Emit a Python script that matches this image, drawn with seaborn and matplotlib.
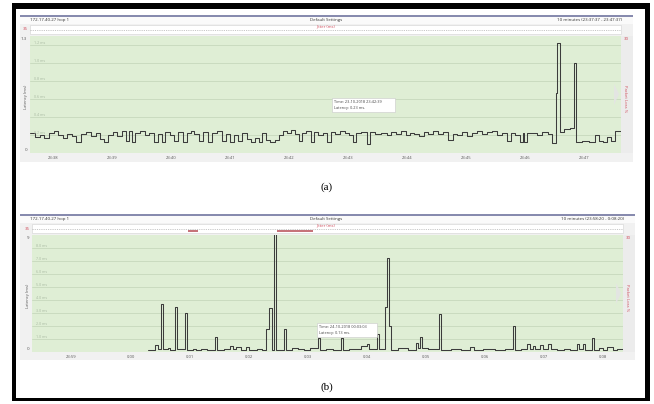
import matplotlib
matplotlib.use("Agg")
import matplotlib.pyplot as plt
import seaborn as sns
from matplotlib.patches import Rectangle, Polygon

sns.set_theme(style="white")
plt.rcParams['font.family'] = ['Open Sans', 'DejaVu Sans']

# ---------------- data ----------------
# Panel (a): seconds after 23:37:37, latency in ms (step changes)
a_times = [0, 5, 10, 14, 19, 24, 28, 33, 38, 43, 47, 52, 57, 62, 67, 71, 75, 79, 84, 88,
           93, 97, 100, 104, 107, 112, 117, 121, 126, 130, 134, 137, 142, 146, 150, 155,
           159, 163, 167, 172, 176, 181, 185, 190, 195, 199, 203, 207, 211, 215, 220, 224,
           228, 232, 236, 240, 244, 249, 253, 257, 261, 265, 269, 273, 276, 280, 285, 288,
           292, 297, 302, 306, 310, 315, 320, 324, 328, 331, 336, 342, 345, 350, 356, 362,
           367, 372, 377, 382, 386, 390, 395, 400, 404, 409, 414, 419, 424, 429, 434, 439,
           444, 449, 454, 459, 464, 469, 474, 479, 484, 488, 492, 497, 500, 502, 505, 510,
           515, 520, 526, 530, 534, 535.5, 538, 542, 548, 552, 554, 560, 568, 574, 578, 582,
           586, 590, 594, 600]
a_lat = [0.22, 0.18, 0.20, 0.17, 0.22, 0.25, 0.20, 0.17, 0.21, 0.19, 0.12, 0.21, 0.23, 0.19,
         0.22, 0.16, 0.12, 0.20, 0.23, 0.19, 0.25, 0.13, 0.25, 0.12, 0.22, 0.24, 0.20, 0.22,
         0.12, 0.21, 0.12, 0.23, 0.20, 0.13, 0.23, 0.12, 0.22, 0.25, 0.21, 0.13, 0.23, 0.12,
         0.22, 0.24, 0.13, 0.21, 0.12, 0.20, 0.13, 0.22, 0.16, 0.12, 0.17, 0.12, 0.22, 0.14,
         0.12, 0.14, 0.20, 0.25, 0.22, 0.26, 0.21, 0.13, 0.22, 0.24, 0.12, 0.23, 0.20, 0.22,
         0.12, 0.23, 0.21, 0.24, 0.22, 0.20, 0.12, 0.22, 0.23, 0.10, 0.23, 0.21, 0.22, 0.20,
         0.23, 0.21, 0.24, 0.20, 0.22, 0.21, 0.19, 0.23, 0.21, 0.25, 0.21, 0.23, 0.14, 0.21,
         0.20, 0.23, 0.19, 0.22, 0.25, 0.21, 0.23, 0.24, 0.20, 0.22, 0.13, 0.22, 0.20, 0.12,
         0.22, 0.12, 0.22, 0.22, 0.20, 0.23, 0.21, 0.11, 0.67, 1.22, 0.23, 0.27, 0.28, 1.00,
         0.12, 0.13, 0.12, 0.20, 0.13, 0.12, 0.18, 0.13, 0.24, 0.24]

# Panel (b): seconds after 23:58:20, latency in ms (step changes)
b_times = [118, 125, 128, 131, 133, 138, 140, 145, 147, 155, 157, 163, 167, 172, 178, 186,
           188, 195, 201, 204, 207, 212, 217, 220, 228, 233, 237.5, 240.5, 243.7, 245.7,
           247.7, 256, 258, 264, 270, 276, 282, 290, 292, 298, 306, 314, 316, 322, 330, 334,
           340, 342, 350, 352, 358, 360, 362, 364, 372, 382, 390, 392, 394, 396, 402, 413,
           415, 425, 436, 445, 449, 458, 470, 480, 488, 490, 496, 503, 506, 509, 511, 516,
           519, 524, 527, 533, 540, 546, 553, 555, 559, 561, 569, 571, 576, 580, 584, 590,
           594, 600]
b_lat = [0.15, 0.55, 0.20, 3.70, 0.20, 0.30, 0.15, 3.45, 0.20, 3.00, 0.15, 0.20, 0.12, 0.25,
         0.15, 1.15, 0.15, 0.20, 0.50, 0.25, 0.40, 0.15, 0.40, 0.15, 0.25, 0.15, 1.75, 3.40,
         0.15, 9.50, 0.15, 1.75, 0.15, 0.30, 0.20, 0.15, 0.30, 1.05, 0.15, 0.20, 0.15, 1.10,
         0.15, 0.25, 0.20, 0.50, 0.65, 0.20, 1.40, 0.20, 3.50, 7.20, 2.00, 0.15, 0.30, 0.15,
         0.70, 0.30, 1.15, 0.30, 0.20, 2.90, 0.15, 0.20, 0.15, 0.40, 0.15, 0.20, 0.15, 0.20,
         2.00, 0.15, 0.20, 0.60, 0.20, 0.50, 0.20, 0.55, 0.25, 0.65, 0.20, 0.15, 0.20, 0.15,
         0.60, 0.20, 0.65, 0.15, 1.05, 0.15, 0.30, 0.15, 0.35, 0.15, 0.20, 0.20]

a_tick_pos = [23, 83, 143, 203, 263, 323, 383, 443, 503, 563]
a_tick_lab = ["23:38", "23:39", "23:40", "23:41", "23:42", "23:43", "23:44", "23:45", "23:46", "23:47"]
b_tick_pos = [40, 100, 160, 220, 280, 340, 400, 460, 520, 580]
b_tick_lab = ["23:59", "0:00", "0:01", "0:02", "0:03", "0:04", "0:05", "0:06", "0:07", "0:08"]

a_grid = [0.2, 0.4, 0.6, 0.8, 1.0, 1.2]
a_grid_lab = ["0.2 ms", "0.4 ms", "0.6 ms", "0.8 ms", "1.0 ms", "1.2 ms"]
b_grid = [1, 2, 3, 4, 5, 6, 7, 8]
b_grid_lab = ["1.0 ms", "2.0 ms", "3.0 ms", "4.0 ms", "5.0 ms", "6.0 ms", "7.0 ms", "8.0 ms"]

# ---------------- layout ----------------
W, H = 654, 404
fig = plt.figure(figsize=(W / 100, H / 100), dpi=100)
fig.patch.set_facecolor("white")

bg = fig.add_axes([0, 0, 1, 1], zorder=0)
bg.set_xlim(0, W)
bg.set_ylim(H, 0)
bg.axis("off")
ov = fig.add_axes([0, 0, 1, 1], zorder=5)
ov.set_xlim(0, W)
ov.set_ylim(H, 0)
ov.axis("off")
ov.patch.set_alpha(0)

GREEN = "#dfeed5"
GRID = "#c6d8bc"
GRAYPANEL = "#f1f1f1"
HEAD = "#7b7fa6"
RED = "#d04a5a"
TXT = "#555555"
LINE = "#3c3c3c"


def rect(ax, x0, y0, x1, y1, **kw):
    ax.add_patch(Rectangle((x0, y0), x1 - x0, y1 - y0, **kw))


def panel(y_off, x_ax0, x_ax1, times, lat, ymax, ytop_lab, grid, grid_lab,
          tick_pos, tick_lab, right_end, bottom_bg, head_right, red_bars, tip_box, tip_lines):
    top = 16 + y_off
    ax_top = 36 + y_off
    ax_bot = 153 + y_off
    # outer gray panel
    rect(bg, 20, top, right_end, bottom_bg + y_off, facecolor=GRAYPANEL, edgecolor="none")
    # header row
    rect(bg, 20, top, right_end, top + 7.5, facecolor="#fafafa", edgecolor="none")
    bg.plot([20, right_end], [top, top], color=HEAD, lw=1.3, solid_capstyle="butt")
    bg.text(30, top + 4, "172.17.40.27 hop 1", fontsize=3.2, color="#333333", va="center")
    bg.text(326, top + 4, "Default Settings", fontsize=3.2, color="#333333", va="center", ha="center")
    bg.text(right_end - 11, top + 4, head_right, fontsize=3.2, color="#333333", va="center", ha="right")
    # jitter strip
    rect(bg, x_ax0, top + 8.5, x_ax1, top + 17.5, facecolor="white", edgecolor="#d2d2d2", lw=0.4)
    bg.plot([x_ax0, x_ax1], [top + 13.5, top + 13.5], color="#9a9a9a", lw=0.4, ls=(0, (2, 2)))
    bg.text(x_ax0 - 2, top + 13.5, "35", fontsize=3.2, color=RED, va="center", ha="right")
    bg.text(326, top + 10.5, "Jitter (ms)", fontsize=3.0, color=RED, va="center", ha="center")
    for (bx0, bx1) in red_bars:
        bg.plot([bx0, bx1], [top + 16, top + 16], color="#c0646c", lw=1.3, solid_capstyle="butt")
    # right side
    rect(bg, x_ax1, ax_top, right_end, ax_bot, facecolor="#ececec", edgecolor="none")
    bg.text(x_ax1 + 3, ax_top + 3, "30", fontsize=3.2, color=RED, va="center", ha="left")
    bg.text(x_ax1 + 4.5, (ax_top + ax_bot) / 2 + 4, "Packet Loss %", fontsize=3.0, color=RED,
            va="center", ha="center", rotation=-90)
    # left axis labels
    bg.text(x_ax0 - 3, ax_top + 3, ytop_lab, fontsize=3.2, color=TXT, va="center", ha="right")
    bg.text(x_ax0 - 3, ax_bot - 3, "0", fontsize=3.2, color=TXT, va="center", ha="right")
    bg.text(x_ax0 - 4, (ax_top + ax_bot) / 2 + 2, "Latency (ms)", fontsize=3.0, color=TXT,
            va="center", ha="center", rotation=90)

    ax = fig.add_axes([x_ax0 / W, 1 - ax_bot / H, (x_ax1 - x_ax0) / W, (ax_bot - ax_top) / H], zorder=2)
    ax.set_facecolor(GREEN)
    for g in grid:
        ax.axhline(g, color=GRID, lw=0.6, zorder=0)
    for g, lab in zip(grid, grid_lab):
        ax.text(4, g, lab, fontsize=2.6, color="#a9b9a2", va="bottom", ha="left")
    sns.lineplot(x=times, y=lat, ax=ax, drawstyle="steps-post", color=LINE, lw=0.75,
                 estimator=None, sort=False)
    ax.set_xlim(0, 600)
    ax.set_ylim(0, ymax)
    ax.set_yticks([])
    ax.set_xticks(tick_pos)
    ax.set_xticklabels(tick_lab, fontsize=3.0, color=TXT)
    ax.tick_params(axis="x", length=0, pad=2)
    ax.set_xlabel("")
    ax.set_ylabel("")
    for s in ax.spines.values():
        s.set_visible(False)

    # light grey arrow near right edge
    ov.add_patch(Polygon([[x_ax1 - 7, ax_top + 48], [x_ax1 - 2, ax_top + 58], [x_ax1 - 7, ax_top + 69]],
                         closed=True, facecolor="#e4e4e4", edgecolor="none", alpha=0.9))
    # tooltip
    tx0, ty0, tx1, ty1 = tip_box
    rect(ov, tx0, ty0, tx1, ty1, facecolor="white", edgecolor="#c8c8c8", lw=0.4)
    ov.text(tx0 + 2, ty0 + 4, tip_lines[0], fontsize=2.8, color="#444444", va="center")
    ov.text(tx0 + 2, ty0 + 10, tip_lines[1], fontsize=2.8, color="#444444", va="center")


panel(0, 30, 621, a_times, a_lat, 1.3, "1.3", a_grid, a_grid_lab, a_tick_pos, a_tick_lab,
      633, 162, "10 minutes (23:37:37 - 23:47:37)", [],
      (332, 98, 395, 112), ["Time: 23-10-2018 23:42:39", "Latency: 0.23 ms."])
panel(199, 32, 623, b_times, b_lat, 9.0, "9", b_grid, b_grid_lab, b_tick_pos, b_tick_lab,
      635, 161, "10 minutes (23:58:20 - 0:08:20)", [(188, 198), (277, 313)],
      (317, 323, 377, 337), ["Time: 24-10-2018 00:03:03", "Latency: 0.13 ms."])

# captions
bg.text(327, 187, "(a)", fontsize=8, color="black", ha="center", va="center", family="Liberation Serif")
bg.text(327, 387, "(b)", fontsize=8, color="black", ha="center", va="center", family="Liberation Serif")

# black frame
rect(ov, 12, 3, 650, 9, facecolor="black", edgecolor="none")
rect(ov, 12, 3, 16, 401, facecolor="black", edgecolor="none")
rect(ov, 645, 3, 650, 401, facecolor="black", edgecolor="none")
rect(ov, 12, 398, 650, 401, facecolor="black", edgecolor="none")

fig.savefig("out.png", dpi=100)
